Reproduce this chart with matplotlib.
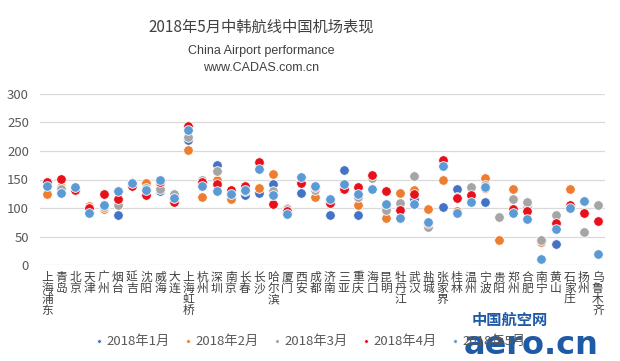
import numpy as np
import matplotlib.pyplot as plt

plt.rcParams['font.family'] = ['Noto Sans CJK SC', 'DejaVu Sans']

nan = np.nan
airports = ["上海浦东", "青岛", "北京", "天津", "广州", "烟台", "延吉", "沈阳", "威海", "大连",
            "上海虹桥", "杭州", "深圳", "南京", "长春", "长沙", "哈尔滨", "厦门", "西安", "成都",
            "济南", "三亚", "重庆", "海口", "昆明", "牡丹江", "武汉", "盐城", "张家界", "桂林",
            "温州", "宁波", "贵阳", "郑州", "合肥", "南宁", "黄山", "石家庄", "扬州", "乌鲁木齐"]

jan = [145, 130, 133, 95, 103, 87, 141, 125, 129, 113, 219, 144, 175, 120, 123, 127, 142, 95, 126, 135,
       88, 167, 88, 155, 104, 100, 115, 73, 101, 134, 115, 110, 43, 95, 105, 42, 36, 103, 112, nan]
feb = [124, 136, 135, 104, 98, 110, 143, 144, 140, 120, 202, 119, 150, 115, 130, 135, 159, 100, 150, 119,
       110, 136, 105, 154, 82, 126, 132, 99, 150, 95, 120, 152, 44, 134, 100, 40, 70, 134, nan, nan]
mar = [143, 134, 134, 100, 101, 105, 142, 135, 134, 124, 224, 150, 165, 126, 135, 177, 130, 98, 148, 132,
       112, 138, 120, 152, 96, 108, 157, 67, 178, 120, 136, 140, 85, 115, 110, 44, 88, 104, 58, 105]
apr = [146, 151, 131, 100, 124, 116, 139, 123, 145, 111, 243, 146, 142, 132, 139, 181, 107, 95, 144, 136,
       108, 133, 137, 158, 129, 96, 124, 74, 184, 118, 122, 135, nan, 99, 94, nan, 74, 106, 92, 78]
may = [139, 126, 137, 92, 105, 130, 143, 131, 150, 117, 236, 139, 130, 124, 132, 168, 123, 89, 155, 139,
       116, 142, 124, 134, 107, 82, 107, 76, 174, 92, 110, 136, nan, 92, 80, 11, 64, 100, 112, 20]

series = ["2018年1月", "2018年2月", "2018年3月", "2018年4月", "2018年5月"]
colors = ["#4472C4", "#ED7D31", "#A5A5A5", "#E8101A", "#5B9BD5"]

fig = plt.figure(figsize=(6.2, 3.61), dpi=100)
ax = fig.add_axes([40 / 620, 1 - 265 / 361, 565 / 620, 171 / 361])

x = np.arange(len(airports))
for vals, name, c in zip([jan, feb, mar, apr, may], series, colors):
    ax.scatter(x, vals, s=48, color=c, edgecolor='white', linewidth=0.6, label=name, zorder=3)

ax.set_xlim(-0.5, len(airports) - 0.5)
ax.set_ylim(0, 300)
ax.set_yticks(range(0, 301, 50))
ax.grid(axis='y', color='#D9D9D9', linewidth=0.9)
ax.set_axisbelow(True)
for s in ax.spines.values():
    s.set_visible(False)
ax.tick_params(length=0, colors='#595959')
ax.tick_params(axis='y', labelsize=9.5, pad=8)
ax.set_xticks(x)
ax.set_xticklabels(["\n".join(a) for a in airports], fontsize=8.5, linespacing=0.82,
                   va='top', color='#404040')
ax.tick_params(axis='x', pad=4)

fig.text(0.421, 1 - 27 / 361, "2018年5月中韩航线中国机场表现", ha='center', va='center',
         fontsize=11, color='#404040')
fig.text(0.421, 1 - 51 / 361, "China Airport performance", ha='center', va='center',
         fontsize=9, color='#404040', family='Liberation Sans')
fig.text(0.421, 1 - 68 / 361, "www.CADAS.com.cn", ha='center', va='center',
         fontsize=9, color='#404040', family='Liberation Sans')

fig.legend(loc='center', bbox_to_anchor=(0.5, 1 - 341 / 361), ncol=5, frameon=False,
           fontsize=9.5, markerscale=0.4, handlelength=0.7, handletextpad=0.15,
           columnspacing=1.1, labelcolor='#595959')

# watermark
fig.text(0.76, 1 - 320 / 361, "中国航空网", ha='left', va='center', fontsize=11,
         fontweight='bold', color='#1F5AA6')
fig.text(0.748, 1 - 346 / 361, "aero.cn", ha='left', va='center', fontsize=23,
         fontweight='bold', color='#1F5AA6', family='DejaVu Sans')

fig.savefig("out.png", dpi=100)
